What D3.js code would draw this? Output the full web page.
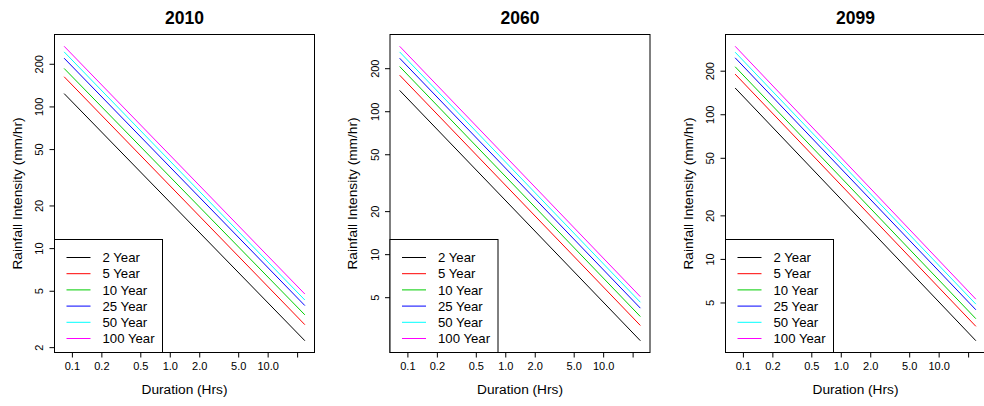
<!DOCTYPE html>
<html><head><meta charset="utf-8">
<script src="https://cdn.jsdelivr.net/npm/d3@7"></script>
<style>
html,body{margin:0;padding:0;background:#fff;}
svg{display:block;font-family:"Liberation Sans",Arial,sans-serif;}
</style></head>
<body>
<svg id="chart" width="984" height="406"></svg>
<script>
// ---- data ----
const years = ["2010", "2060", "2099"];
const returnPeriods = ["2 Year", "5 Year", "10 Year", "25 Year", "50 Year", "100 Year"];
const seriesColors = ["#000000", "#FF0000", "#00CD00", "#0000FF", "#00FFFF", "#FF00FF"];
const durations = [0.0833, 24];               // hours (5 min to 24 hr)
// intensity (mm/hr) at each duration, one row per return period
const intensity2010 = [[123.2, 2.22], [162.0, 2.88], [185.4, 3.38], [219.0, 3.93], [242.7, 4.30], [265.8, 4.74]];
const intensity2060 = [[139.9, 2.48], [178.7, 3.17], [205.5, 3.66], [234.9, 4.19], [260.0, 4.61], [284.7, 5.04]];
const intensity2099 = [[151.9, 2.72], [189.4, 3.42], [213.0, 3.86], [245.6, 4.45], [268.5, 4.87], [295.0, 5.27]];
const xTickValues = [0.1, 0.2, 0.5, 1, 2, 5, 10, 20];
const xTickLabels = ["0.1", "0.2", "0.5", "1.0", "2.0", "5.0", "10.0", ""];
const yTickValues = [2, 5, 10, 20, 50, 100, 200];
const panelData = [intensity2010, intensity2060, intensity2099];

// ---- layout ----
const svg = d3.select("#chart");
const boxTop = 34.5, boxBottom = 352.5, boxW = 260, step = 335.5, firstLeft = 54.5;

function padLog(lo, hi) {
  const a = Math.log10(lo), b = Math.log10(hi), p = (b - a) * 0.04;
  return [Math.pow(10, a - p), Math.pow(10, b + p)];
}

panelData.forEach((rows, pi) => {
  const left = firstLeft + pi * step, right = left + boxW;
  const g = svg.append("g");
  const x = d3.scaleLog().domain(padLog(d3.min(durations), d3.max(durations))).range([left, right]);
  const allV = rows.flat();
  const y = d3.scaleLog().domain(padLog(d3.min(allV), d3.max(allV))).range([boxBottom, boxTop]);

  // series lines
  const line = d3.line().x(d => x(d[0])).y(d => y(d[1]));
  rows.forEach((vals, si) => {
    g.append("path")
      .datum(durations.map((d, k) => [d, vals[k]]))
      .attr("d", line)
      .attr("fill", "none")
      .attr("stroke", seriesColors[si])
      .attr("stroke-width", 1);
  });

  // x axis
  const xAxis = d3.axisBottom(x).tickValues(xTickValues)
    .tickFormat((d, i) => xTickLabels[i]).tickSize(5).tickSizeOuter(0);
  const xa = g.append("g").attr("transform", `translate(0,${boxBottom})`).call(xAxis);
  xa.select(".domain").remove();
  xa.selectAll(".tick line").attr("stroke", "#000");
  xa.selectAll(".tick text").attr("font-size", 11).attr("fill", "#000")
    .attr("font-family", "Liberation Sans, Arial, sans-serif").attr("y", 10).attr("dy", "0.71em");

  // y axis
  const yt = yTickValues.filter(v => v >= y.domain()[0] && v <= y.domain()[1]);
  const yAxis = d3.axisLeft(y).tickValues(yt).tickFormat(d3.format("d")).tickSize(5).tickSizeOuter(0);
  const ya = g.append("g").attr("transform", `translate(${left},0)`).call(yAxis);
  ya.select(".domain").remove();
  ya.selectAll(".tick line").attr("stroke", "#000");
  ya.selectAll(".tick text").attr("font-size", 11).attr("fill", "#000")
    .attr("font-family", "Liberation Sans, Arial, sans-serif")
    .attr("x", null).attr("dy", null)
    .attr("text-anchor", "middle")
    .attr("transform", "translate(-11.5,0) rotate(-90)");

  // box
  g.append("rect").attr("x", left).attr("y", boxTop).attr("width", boxW).attr("height", boxBottom - boxTop)
    .attr("fill", "none").attr("stroke", "#000").attr("stroke-width", 1);

  // title
  g.append("text").attr("x", (left + right) / 2).attr("y", 24)
    .attr("text-anchor", "middle").attr("font-weight", "bold").attr("font-size", 17.5)
    .text(years[pi]);

  // axis titles
  g.append("text").attr("x", (left + right) / 2).attr("y", 393.5)
    .attr("text-anchor", "middle").attr("font-size", 13.7).text("Duration (Hrs)");
  g.append("text").attr("transform", `translate(${left - 33},${(boxTop + boxBottom) / 2}) rotate(-90)`)
    .attr("text-anchor", "middle").attr("font-size", 13.7).text("Rainfall Intensity (mm/hr)");

  // legend
  const legTop = 239.5, legW = 108;
  g.append("rect").attr("x", left).attr("y", legTop).attr("width", legW).attr("height", boxBottom - legTop)
    .attr("fill", "#fff").attr("stroke", "#000").attr("stroke-width", 1);
  returnPeriods.forEach((name, si) => {
    const cy = 257.5 + si * 16.2;
    g.append("line").attr("x1", left + 12).attr("x2", left + 36).attr("y1", cy).attr("y2", cy)
      .attr("stroke", seriesColors[si]).attr("stroke-width", 1);
    g.append("text").attr("x", left + 48).attr("y", cy).attr("dy", "0.35em")
      .attr("font-size", 13.2).attr("fill", "#000").text(name);
  });
});
</script>
</body></html>
